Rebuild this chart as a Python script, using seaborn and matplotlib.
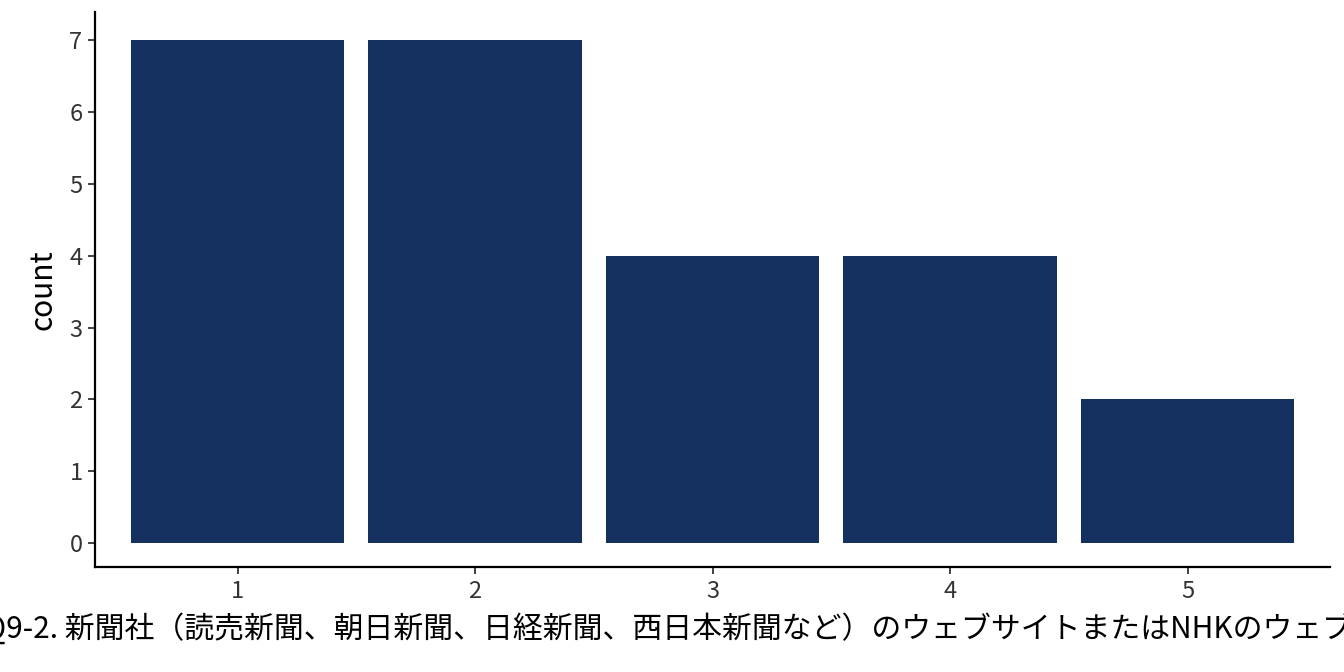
import matplotlib
matplotlib.use('Agg')
import matplotlib.pyplot as plt
import seaborn as sns
import pandas as pd

# answers to Q9-2 and how many times each was given
answers = ['1', '2', '3', '4', '5']
counts = [7, 7, 4, 4, 2]
x_title = 'Q9-2. 新聞社（読売新聞、朝日新聞、日経新聞、西日本新聞など）のウェブサイトまたはNHKのウェブサイト'
y_title = 'count'

bar_colour = '#13305E'

sns.set_theme(style='ticks')
plt.rcParams['font.family'] = ['Noto Sans CJK JP', 'DejaVu Sans']

df = pd.DataFrame({'answer': answers, 'count': counts})

fig = plt.figure(figsize=(13.44, 6.72), dpi=100)
ax = fig.add_axes([95 / 1344, 105 / 672, 1235 / 1344, 555 / 672])

sns.barplot(data=df, x='answer', y='count', color=bar_colour, saturation=1,
            width=0.9, linewidth=0, ax=ax)

ax.set_xlim(-0.6, 4.6)
ax.set_ylim(-0.33, 7.39)
ax.set_yticks(range(0, 8))

sns.despine(ax=ax)
for side in ['left', 'bottom']:
    ax.spines[side].set_linewidth(1.6)
    ax.spines[side].set_color('black')
ax.tick_params(axis='both', length=5, width=1.3, color='#333333',
               labelsize=17, labelcolor='#333333', pad=4)

ax.set_ylabel(y_title, fontsize=21.5, color='black', labelpad=8)
ax.set_xlabel(x_title, fontsize=21.5, color='black', labelpad=7)

fig.savefig('out.png', dpi=100)
